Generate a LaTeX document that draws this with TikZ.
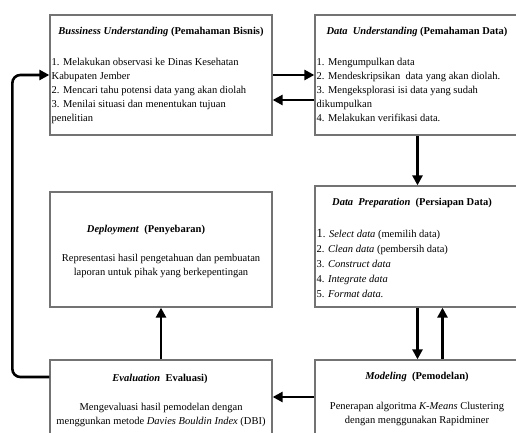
\documentclass[tikz,border=0pt]{standalone}
\usepackage{fontspec}
\setmainfont{Liberation Serif}
\usetikzlibrary{arrows.meta}
\definecolor{boxgray}{RGB}{115,115,115}
\tikzset{
  box/.style={draw=boxgray, line width=1.3pt, fill=white, rectangle, inner sep=0pt},
  arr/.style={line width=2.6pt, -{Triangle[length=10pt,width=10pt]}},
  ttl/.style={font=\fontsize{10.5}{14}\selectfont\bfseries, inner sep=0pt, anchor=center},
  lst/.style={font=\fontsize{10.5}{14}\selectfont, align=left, inner sep=0pt, anchor=north west},
  lstb/.style={font=\fontsize{10.5}{15}\selectfont, align=left, inner sep=0pt, anchor=north west},
  ctr/.style={font=\fontsize{10.5}{14}\selectfont, align=center, inner sep=0pt, anchor=north},
}
\begin{document}
\begin{tikzpicture}[x=1pt,y=-1pt]
\useasboundingbox (0,0) rectangle (516,433);
\clip (0,0) rectangle (516,433);
\fill[white] (0,0) rectangle (516,433);
% boxes
\node[box, minimum width=222pt, minimum height=120pt] (b1) at (161,75) {};
\node[box, minimum width=205pt, minimum height=120pt] (b2) at (417.5,75) {};
\node[box, minimum width=205pt, minimum height=121pt] (b3) at (417.5,246.5) {};
\node[box, minimum width=222pt, minimum height=115pt] (b6) at (161,249.5) {};
\node[box, minimum width=222pt, minimum height=80pt] (b4) at (161,400) {};
\node[box, minimum width=205pt, minimum height=80pt] (b5) at (417.5,400) {};
% texts
\node[ttl] (t1) at (161,32) {\textit{Bussiness Understanding} (Pemahaman Bisnis)};
\node[lst] (l1) at (51.5,58.5) {1. Melakukan observasi ke Dinas Kesehatan\\Kabupaten Jember\\2. Mencari tahu potensi data yang akan diolah\\3. Menilai situasi dan menentukan tujuan\\penelitian};
\node[ttl] (t2) at (417,32) {\textit{Data\ \ Understanding} (Pemahaman Data)};
\node[lst] (l2) at (316.5,58.5) {1. Mengumpulkan data\\2. Mendeskripsikan\ \ data yang akan diolah.\\3. Mengeksplorasi isi data yang sudah\\dikumpulkan\\4. Melakukan verifikasi data.};
\node[ttl] (t3) at (412,203) {\textit{Data\ \ Preparation}\ \ (Persiapan Data)};
\node[lstb] (l3) at (316.5,229.5) {{\fontsize{12.5}{15}\selectfont 1}. \textit{Select data} (memilih data)\\2. \textit{Clean data} (pembersih data)\\3. \textit{Construct data}\\4. \textit{Integrate data}\\5. \textit{Format data.}};
\node[ttl] (t6) at (146,230) {\textit{Deployment}\ \ (Penyebaran)};
\node[ctr] (l6) at (161,254.5) {Representasi hasil pengetahuan dan pembuatan\\laporan untuk pihak yang berkepentingan};
\node[ttl] (t4) at (160,379) {\textit{Evaluation}\ \ Evaluasi)};
\node[ctr] (l4) at (161,403.5) {Mengevaluasi hasil pemodelan dengan\\menggunkan metode \textit{Davies Bouldin Index} (DBI)};
\node[ttl] (t5) at (417,377) {\textit{Modeling}\ \ (Pemodelan)};
\node[ctr] (l5) at (417,402.5) {Penerapan algoritma \textit{K-Means} Clustering\\dengan menggunakan Rapidminer};
% arrows
\draw[arr] (b1.east) -- (b2.west);
\draw[arr] ([yshift=-25pt]b2.west) -- ([yshift=-25pt]b1.east);
\draw[arr] (b2.south) -- (b3.north);
\draw[arr] (b3.south) -- (b5.north);
\draw[arr] ([xshift=25pt]b5.north) -- ([xshift=25pt]b3.south);
\draw[arr] ([yshift=3pt]b5.west) -- ([yshift=3pt]b4.east);
\draw[arr] (b4.north) -- (b6.south);
\draw[arr, rounded corners=8pt] ([yshift=23pt]b4.west) -- ++(-37,0) |- (b1.west);
\end{tikzpicture}
\end{document}
